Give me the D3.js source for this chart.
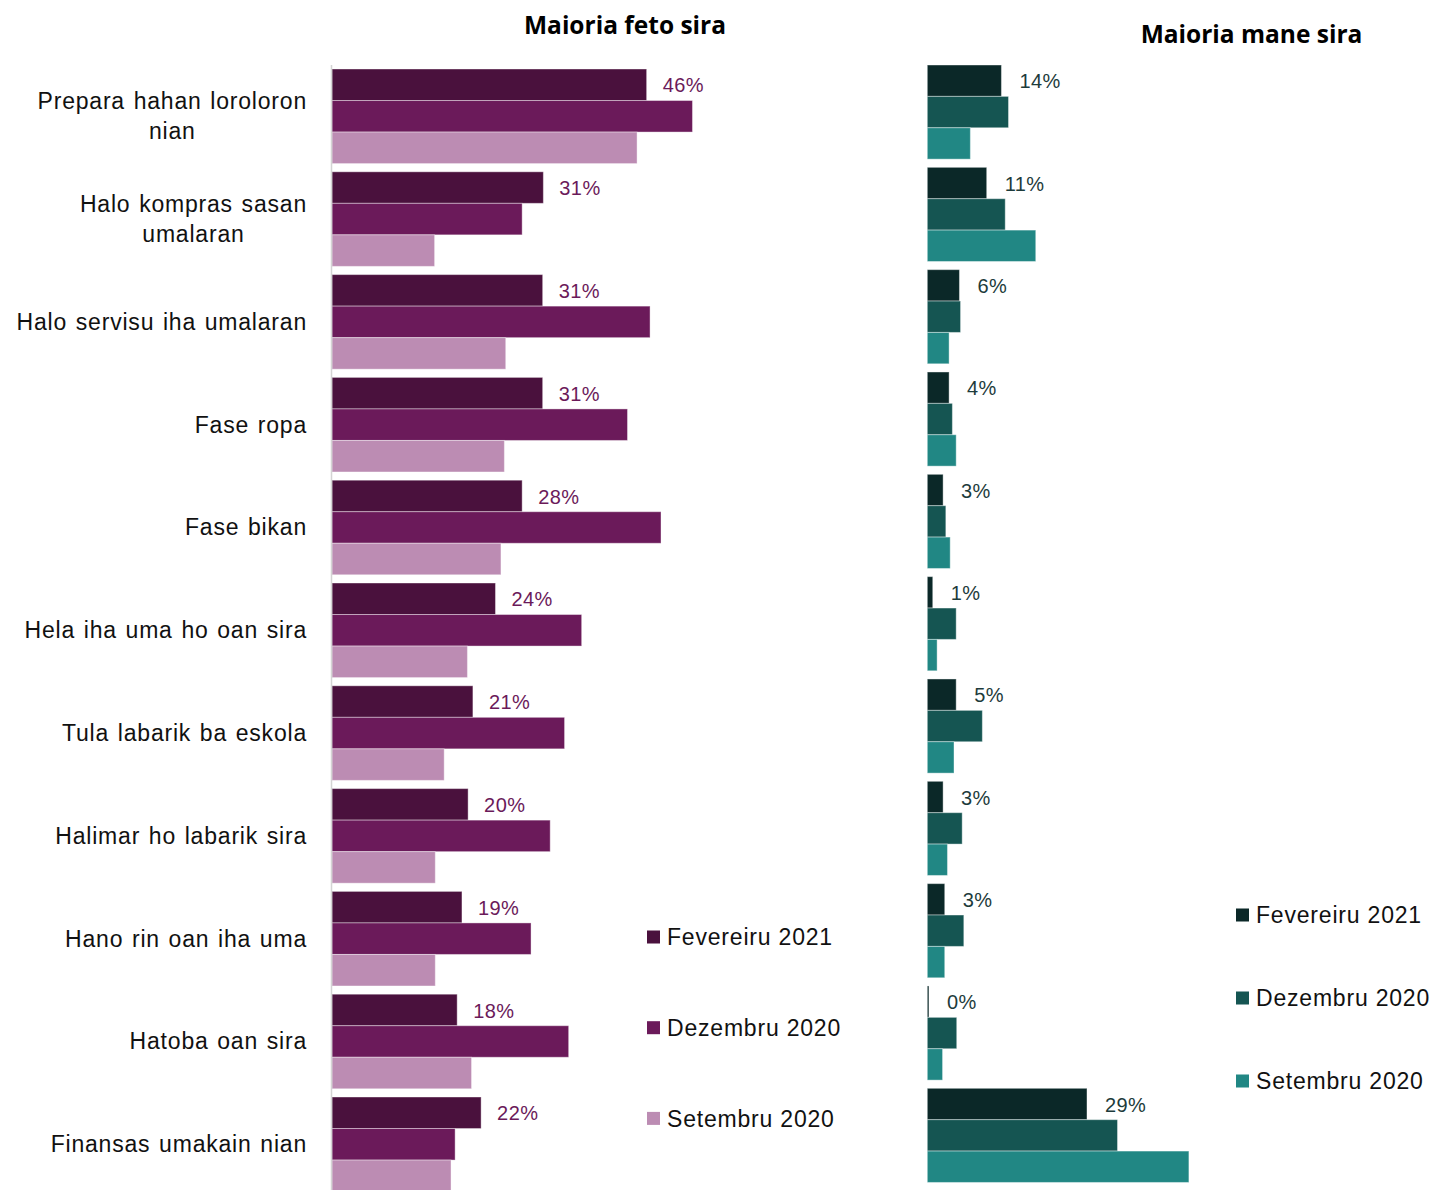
<!DOCTYPE html>
<html>
<head>
<meta charset="utf-8">
<script src="https://cdn.jsdelivr.net/npm/d3@7"></script>
<style>
  html, body { margin: 0; padding: 0; background: #fff; }
  svg { display: block; }
</style>
</head>
<body>
<svg id="chart" width="1435" height="1190"></svg>
<script>
// ---- data ----
const categories = [
  ["Prepara hahan loroloron", "nian"],
  ["Halo kompras sasan", "umalaran"],
  ["Halo servisu iha umalaran"],
  ["Fase ropa"],
  ["Fase bikan"],
  ["Hela iha uma ho oan sira"],
  ["Tula labarik ba eskola"],
  ["Halimar ho labarik sira"],
  ["Hano rin oan iha uma"],
  ["Hatoba oan sira"],
  ["Finansas umakain nian"]
];
const seriesNames = ["Fevereiru 2021", "Dezembru 2020", "Setembru 2020"];
const fetoFev = [46.0, 30.9, 30.8, 30.8, 27.8, 23.9, 20.6, 19.9, 19.0, 18.3, 21.8];
const fetoDez = [52.7, 27.8, 46.5, 43.2, 48.1, 36.5, 34.0, 31.9, 29.1, 34.6, 18.0];
const fetoSet = [44.6, 15.0, 25.4, 25.2, 24.7, 19.8, 16.4, 15.1, 15.1, 20.4, 17.4];
const maneFev = [13.6, 10.9, 5.9, 4.0, 2.9, 1.0, 5.3, 2.9, 3.2, 0.3, 29.3];
const maneDez = [14.9, 14.3, 6.1, 4.6, 3.4, 5.3, 10.1, 6.4, 6.7, 5.4, 34.9];
const maneSet = [7.9, 19.9, 4.0, 5.3, 4.2, 1.8, 4.9, 3.7, 3.2, 2.8, 48.0];
const titles = ["Maioria feto sira", "Maioria mane sira"];

const fetoColors = ["#4a113d", "#6b1a5a", "#bc8cb3"];
const maneColors = ["#0b2828", "#155552", "#218784"];

const svg = d3.select("#chart");
const FONT = "'Liberation Sans', Arial, sans-serif";
const TFONT = "'Open Sans', 'Noto Sans', sans-serif";
const catKeys = categories.map(c => c.join(" "));

function panel(opts) {
  const g = svg.append("g");
  const y = d3.scaleBand().domain(catKeys).range(opts.yRange)
    .paddingInner(0.08).paddingOuter(0.04);
  const sub = d3.scaleBand().domain(seriesNames).range([0, y.bandwidth()]);
  const x = d3.scaleLinear().domain(opts.xDomain).range(opts.xRange);
  const series = opts.values;

  catKeys.forEach((k, i) => {
    seriesNames.forEach((s, j) => {
      g.append("rect")
        .attr("x", x(0))
        .attr("y", y(k) + sub(s))
        .attr("width", Math.max(0, x(series[j][i]) - x(0)))
        .attr("height", sub.bandwidth())
        .attr("fill", opts.colors[j])
        .attr("stroke", "rgba(255,255,255,0.4)")
        .attr("stroke-width", 1);
    });
    g.append("text")
      .attr("x", x(series[0][i]) + opts.labelOffset)
      .attr("y", y(k) + sub(seriesNames[0]) + sub.bandwidth() / 2)
      .attr("dy", "0.38em")
      .attr("font-family", FONT)
      .attr("font-size", opts.labelSize)
      .attr("letter-spacing", "0.4px")
      .attr("fill", opts.labelColor)
      .text(Math.round(series[0][i]) + "%");
  });
  return { x, y };
}

// left panel
const stepL = 102.8;
const left = panel({
  yRange: [69 - 0.04 * stepL, 69 - 0.04 * stepL + 11 * stepL],
  xDomain: [0, 60], xRange: [332, 332 + 60 * 6.84],
  values: [fetoFev, fetoDez, fetoSet],
  colors: fetoColors, labelOffset: 16, labelSize: 20, labelColor: "#6b1a5a"
});

// axis line (category axis) left
svg.append("line")
  .attr("x1", 331.5).attr("x2", 331.5)
  .attr("y1", 65).attr("y2", 1190)
  .attr("stroke", "#d4d4d4").attr("stroke-width", 1.5);

// category labels
const catG = svg.append("g");
categories.forEach((lines, i) => {
  const cy = left.y(catKeys[i]) + left.y.bandwidth() / 2;
  const lh = 30;
  const t = catG.append("text")
    .attr("font-family", FONT).attr("font-size", 23).attr("fill", "#111")
    .attr("letter-spacing", "0.8px").attr("word-spacing", "1.5px")
    .attr("text-anchor", "middle");
  lines.forEach((ln, li) => {
    t.append("tspan").attr("x", 0)
      .attr("y", cy + (li - (lines.length - 1) / 2) * lh).attr("dy", "0.34em").text(ln);
  });
  const w = t.node().getBBox().width;
  t.selectAll("tspan").attr("x", 307 - w / 2);
});

// right panel
const stepR = 102.33;
const right = panel({
  yRange: [65 - 0.04 * stepR, 65 - 0.04 * stepR + 11 * stepR],
  xDomain: [0, 50], xRange: [927.3, 927.3 + 50 * 5.45],
  values: [maneFev, maneDez, maneSet],
  colors: maneColors, labelOffset: 18, labelSize: 20, labelColor: "#1d3b3b"
});

// titles
svg.append("text").attr("x", 625).attr("y", 34).attr("text-anchor", "middle")
  .attr("font-family", TFONT).attr("font-weight", 700).attr("font-size", 24.5)
  .attr("fill", "#000").text(titles[0]);
svg.append("text").attr("x", 1251.5).attr("y", 43).attr("text-anchor", "middle")
  .attr("font-family", TFONT).attr("font-weight", 700).attr("font-size", 24.5)
  .attr("fill", "#000").text(titles[1]);

// legends
function legend(x, y0, step, colors) {
  const g = svg.append("g");
  seriesNames.forEach((s, j) => {
    const cy = y0 + j * step;
    g.append("rect").attr("x", x).attr("y", cy - 6.5).attr("width", 13).attr("height", 13)
      .attr("fill", colors[j]);
    g.append("text").attr("x", x + 20).attr("y", cy).attr("dy", "0.36em")
      .attr("font-family", FONT).attr("font-size", 23).attr("letter-spacing", "0.8px")
      .attr("fill", "#111").text(s);
  });
}
legend(647, 937, 90.7, fetoColors);
legend(1236, 915, 83, maneColors);
</script>
</body>
</html>
